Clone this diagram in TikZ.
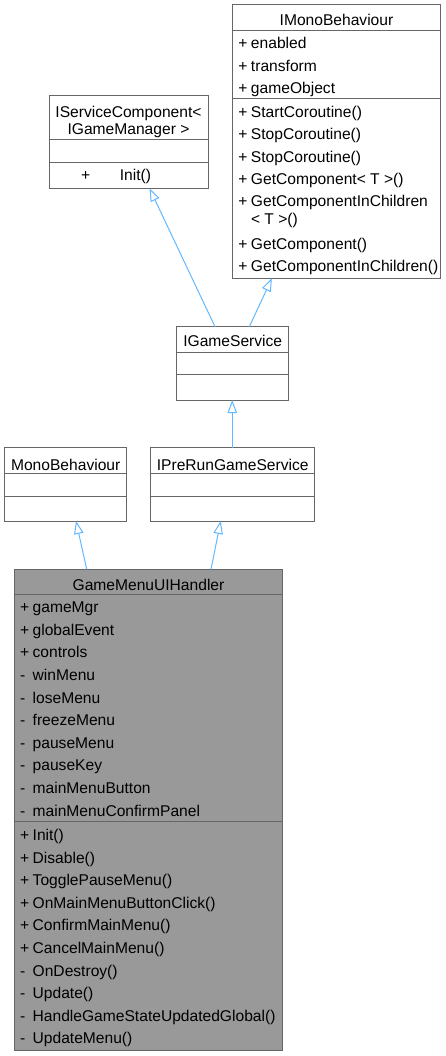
\documentclass[tikz,border=0pt]{standalone}
\usepackage{fontspec}
\setmainfont{Liberation Sans}
\usetikzlibrary{arrows.meta,calc}
\definecolor{edgeblue}{HTML}{63B8FF}
\definecolor{boxline}{HTML}{666666}
\definecolor{mainfill}{HTML}{999999}
\newcommand{\mem}[2]{\makebox[12.6pt][l]{#1}#2}
\begin{document}
\begin{tikzpicture}[x=1pt,y=-1pt,
  cls/.style={draw=boxline, line width=1pt, fill=white, rectangle, inner sep=0pt, outer sep=0pt, anchor=north west},
  sepline/.style={draw=boxline, line width=1pt},
  txt/.style={inner sep=0pt, anchor=base west, font=\fontsize{15.6}{17.7}\selectfont},
  ttl/.style={inner sep=0pt, anchor=base, font=\fontsize{15.6}{17.7}\selectfont},
  inh/.style={draw=edgeblue, line width=1pt, -{Triangle[length=13pt,width=9.5pt,fill=white]}}
]
\useasboundingbox (0,0) rectangle (446,1056);

% ---------- IMonoBehaviour ----------
\node[cls, minimum width=208.4pt, minimum height=273.3pt] (imb) at (232.3,5) {};
\draw[sepline] ($(imb.north west)+(0,25.7)$) -- ($(imb.north east)+(0,25.7)$);
\draw[sepline] ($(imb.north west)+(0,93.7)$) -- ($(imb.north east)+(0,93.7)$);
\node[ttl] (imb-t) at (336.5,25.3) {IMonoBehaviour};
\node[txt] (imb-a1) at (238.2,49) {\mem{+}{enabled}};
\node[txt] (imb-a2) at (238.2,71.5) {\mem{+}{transform}};
\node[txt] (imb-a3) at (238.2,94) {\mem{+}{gameObject}};
\node[txt] (imb-m1) at (238.2,117.4) {\mem{+}{StartCoroutine()}};
\node[txt] (imb-m2) at (238.2,139.9) {\mem{+}{StopCoroutine()}};
\node[txt] (imb-m3) at (238.2,162.4) {\mem{+}{StopCoroutine()}};
\node[txt] (imb-m4) at (238.2,184.9) {\mem{+}{GetComponent< T >()}};
\node[txt] (imb-m5) at (238.2,206.8) {\mem{+}{GetComponentInChildren}};
\node[txt] (imb-m5b) at (238.2,224.8) {\mem{}{< T >()}};
\node[txt] (imb-m6) at (238.2,249.3) {\mem{+}{GetComponent()}};
\node[txt] (imb-m7) at (238.2,271.7) {\mem{+}{GetComponentInChildren()}};

% ---------- IServiceComponent ----------
\node[cls, minimum width=159pt, minimum height=92.3pt] (isc) at (49,96) {};
\draw[sepline] ($(isc.north west)+(0,44)$) -- ($(isc.north east)+(0,44)$);
\draw[sepline] ($(isc.north west)+(0,67)$) -- ($(isc.north east)+(0,67)$);
\node[ttl] (isc-t1) at (128.5,117.3) {IServiceComponent<};
\node[ttl] (isc-t2) at (128.5,134.7) {IGameManager >};
\node[txt] (isc-s) at (80.9,181) {+};
\node[txt] (isc-m1) at (119.6,181) {Init()};

% ---------- IGameService ----------
\node[cls, minimum width=112pt, minimum height=73.3pt] (igs) at (176.7,326.7) {};
\draw[sepline] ($(igs.north west)+(0,25.3)$) -- ($(igs.north east)+(0,25.3)$);
\draw[sepline] ($(igs.north west)+(0,48)$) -- ($(igs.north east)+(0,48)$);
\node[ttl] (igs-t) at (232.7,346.7) {IGameService};

% ---------- MonoBehaviour ----------
\node[cls, minimum width=122pt, minimum height=73.3pt] (mono) at (4.7,447.7) {};
\draw[sepline] ($(mono.north west)+(0,25.6)$) -- ($(mono.north east)+(0,25.6)$);
\draw[sepline] ($(mono.north west)+(0,48.6)$) -- ($(mono.north east)+(0,48.6)$);
\node[ttl] (mono-t) at (65.7,470) {MonoBehaviour};

% ---------- IPreRunGameService ----------
\node[cls, minimum width=164pt, minimum height=73.3pt] (iprs) at (150.7,447.7) {};
\draw[sepline] ($(iprs.north west)+(0,25.6)$) -- ($(iprs.north east)+(0,25.6)$);
\draw[sepline] ($(iprs.north west)+(0,48.6)$) -- ($(iprs.north east)+(0,48.6)$);
\node[ttl] (iprs-t) at (232.7,470) {IPreRunGameService};

% ---------- GameMenuUIHandler ----------
\node[cls, fill=mainfill, minimum width=268.4pt, minimum height=481.4pt] (gmh) at (14.3,569.3) {};
\draw[sepline] ($(gmh.north west)+(0,25)$) -- ($(gmh.north east)+(0,25)$);
\draw[sepline] ($(gmh.north west)+(0,251.7)$) -- ($(gmh.north east)+(0,251.7)$);
\node[ttl] (gmh-t) at (148.5,590.7) {GameMenuUIHandler};
\foreach \t [count=\i] in {\mem{+}{gameMgr},\mem{+}{globalEvent},\mem{+}{controls},
  \mem{-}{winMenu},\mem{-}{loseMenu},\mem{-}{freezeMenu},\mem{-}{pauseMenu},
  \mem{-}{pauseKey},\mem{-}{mainMenuButton},\mem{-}{mainMenuConfirmPanel}}
  \node[txt] (gmh-a\i) at (19.9,{612.7+22.6*(\i-1)}) {\t};
\foreach \t [count=\i] in {\mem{+}{Init()},\mem{+}{Disable()},\mem{+}{TogglePauseMenu()},
  \mem{+}{OnMainMenuButtonClick()},\mem{+}{ConfirmMainMenu()},\mem{+}{CancelMainMenu()},
  \mem{-}{OnDestroy()},\mem{-}{Update()},\mem{-}{HandleGameStateUpdatedGlobal()},
  \mem{-}{UpdateMenu()}}
  \node[txt] (gmh-m\i) at (19.9,{840.5+22.6*(\i-1)}) {\t};

% ---------- inheritance edges ----------
\draw[inh] ($(gmh.north west)+(72.4,0)$) -- ($(mono.south west)+(71.3,0)$);
\draw[inh] ($(gmh.north west)+(196.7,0)$) -- ($(iprs.south west)+(70,0)$);
\draw[inh] ($(iprs.north west)+(81.6,0)$) -- ($(igs.south west)+(55.6,0)$);
\draw[inh] ($(igs.north west)+(38.3,0)$) -- ($(isc.south west)+(100.5,0)$);
\draw[inh] ($(igs.north west)+(72.6,0)$) -- ($(imb.south west)+(39.6,0)$);
\end{tikzpicture}
\end{document}
